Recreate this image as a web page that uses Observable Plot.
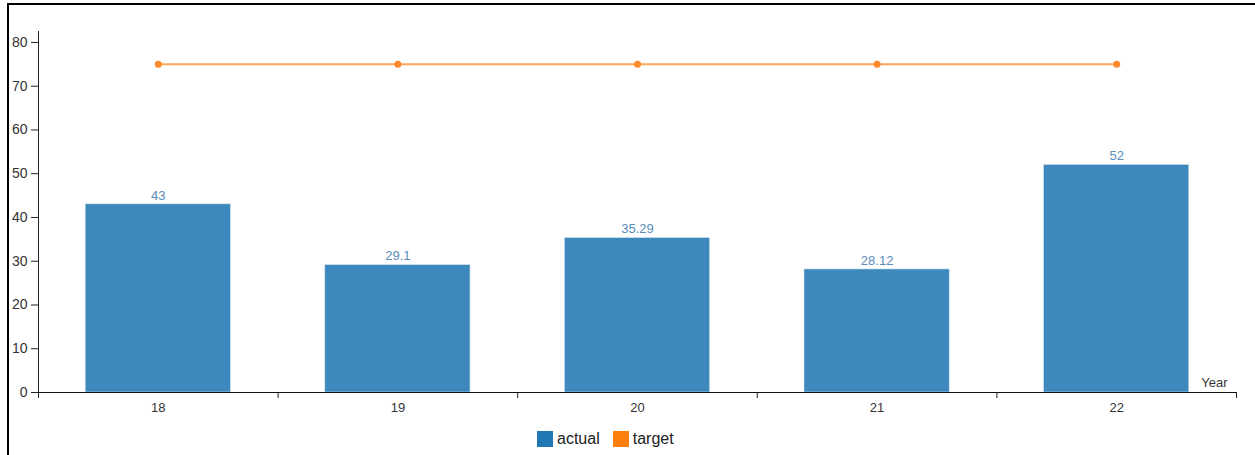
<!DOCTYPE html>
<html>
<head>
<meta charset="utf-8">
<script src="https://cdn.jsdelivr.net/npm/d3@7"></script>
<script src="https://cdn.jsdelivr.net/npm/@observablehq/plot@0.6"></script>
<style>
  html, body { margin: 0; padding: 0; background: #fff; font-family: "Liberation Sans", Arial, sans-serif; }
  #wrap { position: relative; width: 1255px; height: 455px; overflow: hidden; }
  #frame { position: absolute; left: 7px; top: 3px; width: 1300px; height: 500px; border-left: 2px solid #000; border-top: 2px solid #000; box-sizing: border-box; pointer-events: none; }
  #chart { position: absolute; left: 0; top: 0; }
  #legend { position: absolute; left: 537px; top: 430px; display: flex; align-items: center; font-size: 16px; color: #222; }
  .sw { width: 16px; height: 16px; display: inline-block; margin-right: 4px; }
  .item { display: flex; align-items: center; margin-right: 13px; }
</style>
</head>
<body>
<div id="wrap">
  <div id="chart"></div>
  <div id="legend"></div>
  <div id="frame"></div>
</div>
<script>
const categories = ["18", "19", "20", "21", "22"];
const actual = [43, 29.1, 35.29, 28.12, 52];
const target = [75, 75, 75, 75, 75];
const yTicks = [0, 10, 20, 30, 40, 50, 60, 70, 80];
const seriesNames = ["actual", "target"];
const seriesColors = ["#1f77b4", "#ff7f0e"];

const data = categories.map((c, i) => ({i, c, actual: actual[i], target: target[i]}));
const boundaries = d3.range(categories.length + 1).map(k => k - 0.5);
const half = 0.303;

const chart = Plot.plot({
  width: 1255,
  height: 420,
  marginLeft: 38,
  marginRight: 19,
  marginTop: 31,
  marginBottom: 28,
  style: {fontFamily: "'Liberation Sans', Arial, sans-serif", fontSize: "13px", color: "#333", background: "transparent", overflow: "visible"},
  x: {type: "linear", domain: [-0.5, categories.length - 0.5]},
  y: {domain: [0, 82.5]},
  marks: [
    Plot.rectY(data, {x1: d => d.i - half, x2: d => d.i + half, y1: 0, y2: "actual", fill: "#3d89be", stroke: "#cfe0ee", strokeWidth: 0.6}),
    Plot.text(data, {x: "i", y: "actual", text: d => String(d.actual), dy: -9, fill: "#5b8cba", fontSize: 13}),
    Plot.line(data, {x: "i", y: "target", stroke: "#ff7f0e", strokeOpacity: 0.7, strokeWidth: 2}),
    Plot.dot(data, {x: "i", y: "target", r: 3.5, fill: "#ff8a2b", stroke: "none"}),
    Plot.ruleX([-0.5], {y1: 0, y2: 82.5, stroke: "#222", strokeWidth: 1}),
    Plot.axisY({ticks: yTicks, tickSize: 7, tickPadding: 4, label: null, stroke: "#222", fill: "#333", fontSize: 14}),
    Plot.ruleY([0], {stroke: "#111", strokeWidth: 1.2}),
    Plot.axisX({ticks: boundaries, tickFormat: () => "", tickSize: 6, label: null, stroke: "#222"}),
    Plot.axisX({ticks: d3.range(categories.length), tickFormat: i => categories[i], tickSize: 0, tickPadding: 10, label: null, fill: "#333", fontSize: 13}),
    Plot.text(["Year"], {frameAnchor: "bottom-right", dx: -9, dy: -6, fill: "#333", fontSize: 13})
  ]
});
document.getElementById("chart").appendChild(chart);

const legend = document.getElementById("legend");
seriesNames.forEach((name, k) => {
  const item = document.createElement("div");
  item.className = "item";
  const sw = document.createElement("span");
  sw.className = "sw";
  sw.style.background = seriesColors[k];
  const lab = document.createElement("span");
  lab.textContent = name;
  item.appendChild(sw);
  item.appendChild(lab);
  legend.appendChild(item);
});
</script>
</body>
</html>
